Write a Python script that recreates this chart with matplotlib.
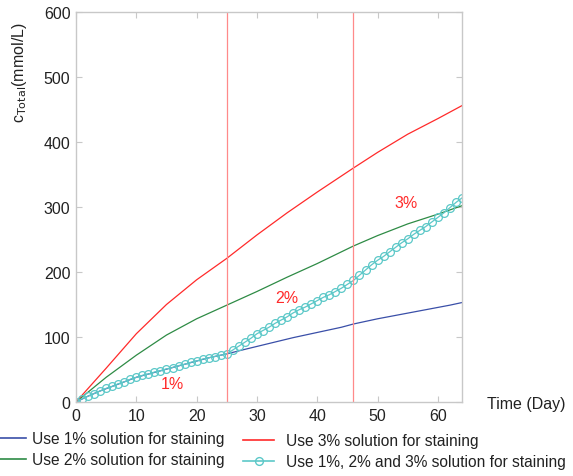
import matplotlib
matplotlib.use("Agg")
import matplotlib.pyplot as plt
from matplotlib.lines import Line2D

plt.rcParams['font.family'] = ['Liberation Sans', 'DejaVu Sans']

# Data
days_1 = [0, 2, 4, 6, 8, 10, 12, 14, 16, 18, 20, 22, 24, 25, 28, 32, 36, 40, 44, 46, 50, 54, 58, 62, 64]
c_1 = [0, 9, 17, 24, 31, 38, 43, 48, 53, 58, 63, 68, 72, 74, 81, 90, 99, 107, 115, 120, 128, 135, 142, 149, 153]

days_2 = [0, 5, 10, 15, 20, 25, 30, 35, 40, 46, 50, 55, 60, 64]
c_2 = [0, 38, 72, 103, 128, 149, 170, 192, 213, 240, 256, 274, 289, 302]

days_3 = [0, 5, 10, 15, 20, 25, 30, 35, 40, 46, 50, 55, 60, 64]
c_3 = [0, 52, 105, 150, 188, 221, 257, 291, 323, 360, 384, 412, 436, 456]

days_mix = list(range(0, 65))
c_mix = [0, 5, 9, 13, 17, 21, 24, 28, 31, 35, 38, 41, 43, 46, 48, 51, 53, 56, 58, 61,
         63, 66, 68, 70, 72, 74, 80, 86, 92, 98, 105, 110, 115, 121, 126, 131, 137, 142,
         146, 151, 156, 161, 165, 170, 175, 181, 187, 195, 203, 211, 218, 224, 231, 238,
         245, 251, 258, 264, 270, 277, 284, 291, 299, 307, 314]

switch_days = [25, 46]
stage_labels = ["1%", "2%", "3%"]
stage_pos = [(16, 28), (35, 161), (54.8, 307)]

labels = ["Use 1% solution for staining", "Use 2% solution for staining",
          "Use 3% solution for staining", "Use 1%, 2% and 3% solution for staining"]

c_blue = '#3a4fa8'
c_green = '#2e8b45'
c_red = '#ff2a2a'
c_cyan = '#5cc8c8'

fig = plt.figure(figsize=(5.73, 4.77), dpi=100)
ax = fig.add_axes([76/573, 1-403/477, (462-76)/573, (403-13)/477])

ax.plot(days_1, c_1, color=c_blue, lw=0.9)
ax.plot(days_2, c_2, color=c_green, lw=0.9)
ax.plot(days_3, c_3, color=c_red, lw=0.9)
ax.plot(days_mix, c_mix, color=c_cyan, lw=0.9, marker='o', markersize=5.6,
        markerfacecolor='none', markeredgecolor=c_cyan, markeredgewidth=0.9)
for d in switch_days:
    ax.axvline(d, color='#ff8a8a', lw=0.9)

for t, (x, y) in zip(stage_labels, stage_pos):
    ax.text(x, y, t, color='#ff2a2a', fontsize=11.5, ha='center', va='center')

ax.set_xlim(0, 64)
ax.set_ylim(0, 600)
ax.set_xticks([0, 10, 20, 30, 40, 50, 60])
ax.set_yticks([0, 100, 200, 300, 400, 500, 600])
for s in ax.spines.values():
    s.set_color('#c8c8c8')
    s.set_linewidth(1.0)
ax.tick_params(direction='in', top=True, right=True, color='#c8c8c8', length=4,
               labelsize=11.5, labelcolor='#222222', pad=4)

fig.text(20/573, 1-73/477, r'c$_{\mathrm{Total}}$(mmol/L)', rotation=90, fontsize=11.5,
         ha='center', va='center', color='#222222')
fig.text(487/573, 1-405/477, 'Time (Day)', fontsize=11.5, ha='left', va='center', color='#222222')

h1 = [Line2D([], [], color=c_blue, lw=1.2), Line2D([], [], color=c_green, lw=1.2)]
h2 = [Line2D([], [], color=c_red, lw=1.2),
      Line2D([], [], color=c_cyan, lw=1.2, marker='o', markersize=5.6,
             markerfacecolor='none', markeredgecolor=c_cyan)]
leg1 = fig.legend(h1, labels[:2], loc='upper left', bbox_to_anchor=(0.0, 1-432/477),
                  frameon=False, fontsize=11.2, handlelength=1.65, handletextpad=0.4,
                  labelspacing=0.4, borderaxespad=0, borderpad=0)
leg2 = fig.legend(h2, labels[2:], loc='upper left', bbox_to_anchor=(243/573, 1-434/477),
                  frameon=False, fontsize=11.2, handlelength=2.0, handletextpad=0.75,
                  labelspacing=0.4, borderaxespad=0, borderpad=0)
for leg in (leg1, leg2):
    for t in leg.get_texts():
        t.set_color('#222222')

fig.savefig('out.png', dpi=100)
